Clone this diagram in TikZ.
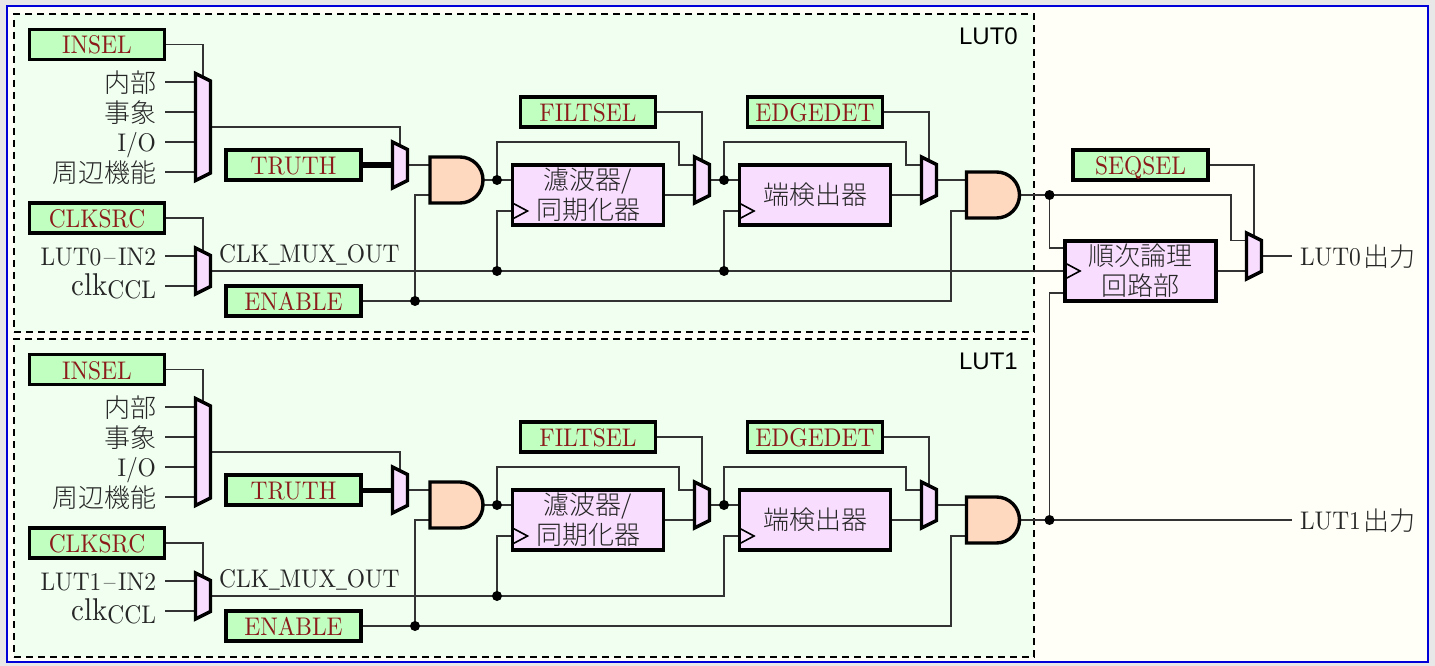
\documentclass[tikz,border=0pt]{standalone}
\usepackage{fontspec}
\setmainfont{lmroman10-regular}[Extension=.otf,FakeStretch=0.92]
\newfontfamily\cjkfam{Noto Sans CJK JP Light}
\newfontfamily\sansfam{Liberation Sans}
\newfontfamily\usfam{Liberation Serif}
\usetikzlibrary{calc}
\pgfdeclarelayer{panel}\pgfdeclarelayer{wirelayer}
\pgfsetlayers{panel,wirelayer,main}
\definecolor{wirecol}{HTML}{333333}
\definecolor{labelcol}{HTML}{262626}
\definecolor{regfill}{HTML}{C0FFC0}
\definecolor{regtext}{HTML}{8B1A1A}
\definecolor{pinkfill}{HTML}{F8DDFF}
\definecolor{peachfill}{HTML}{FFD8C0}
\definecolor{panelfill}{HTML}{F0FFF0}
\newcommand{\lat}{\fontsize{25.5}{28}\selectfont}
\newcommand{\cj}[1]{\raisebox{-1pt}{\cjkfam\fontsize{26}{30}\selectfont\color{labelcol}#1}}
\newcommand{\us}{{\usfam\fontsize{21}{26}\selectfont\_}}
\tikzset{
  wire/.style={draw=wirecol,line width=1.8pt},
  thickwire/.style={draw=black,line width=5pt},
  regbox/.style={draw=black,line width=3.4pt,fill=regfill,minimum width=135pt,minimum height=30pt,inner sep=0pt,outer sep=0pt,text=regtext,font=\lat,text height=19pt,text depth=0pt},
  blockbox/.style={draw=black,line width=3.2pt,fill=pinkfill,minimum width=151pt,minimum height=60pt,inner sep=0pt,outer sep=0pt,align=center,font=\fontsize{26}{30}\selectfont},
  pinlabel/.style={anchor=east,inner sep=0pt,outer sep=0pt,text=labelcol,font=\lat,text height=19pt,text depth=0pt},
  outlabel/.style={anchor=west,inner sep=0pt,outer sep=0pt,text=labelcol,font=\lat,text height=19pt,text depth=0pt},
  dot/.style={circle,fill=black,draw=none,minimum size=10pt,inner sep=0pt,outer sep=0pt},
  anchorbox/.style={inner sep=0pt,outer sep=0pt,minimum width=15pt},
  shapeline/.style={draw=black,line width=3.4pt,line join=miter},
  panelbox/.style={draw=black,fill=panelfill,line width=1.5pt,dash pattern=on 7pt off 5pt,minimum width=1020pt,minimum height=318pt,inner sep=0pt},
}
% mux: name, centre x, centre y, height of the long side
\newcommand{\muxnode}[4]{%
  \node[anchorbox,minimum height=#4pt] (#1) at (#2,#3) {};
  \filldraw[shapeline,fill=pinkfill] (#1.north west) -- ([yshift=-7.5pt]#1.north east)
    -- ([yshift=7.5pt]#1.south east) -- (#1.south west) -- cycle;}
% and gate: name, centre x, centre y
\newcommand{\andnode}[3]{%
  \node[inner sep=0pt,outer sep=0pt,minimum width=53pt,minimum height=46pt] (#1) at (#2,#3) {};
  \filldraw[shapeline,fill=peachfill] (#1.north west) -- ([xshift=-23pt]#1.north east)
    arc[start angle=90,end angle=-90,radius=23pt] -- (#1.south west) -- cycle;}
\newcommand{\lutblock}[2]{%
\begin{scope}[shift={(0,#2)}]
  \begin{pgfonlayer}{panel}
    \node[panelbox] (panel#1) at (524,173) {};
  \end{pgfonlayer}
  \node[anchor=east,inner sep=0pt,font=\sansfam\fontsize{24}{26}\selectfont,text=black] (title#1) at (1018,36) {LUT#1};
  \node[regbox] (insel#1) at (97,44.5) {INSEL};
  \node[pinlabel] (a#1) at (156,82) {\cj{内部}};
  \node[pinlabel] (b#1) at (156,112) {\cj{事象}};
  \node[pinlabel] (c#1) at (156,142) {I/O};
  \node[pinlabel] (d#1) at (156,172) {\cj{周辺機能}};
  \node[regbox] (truth#1) at (293.5,165) {TRUTH};
  \node[regbox] (clksrc#1) at (97,218) {CLKSRC};
  \node[pinlabel] (e#1) at (156,256) {LUT#1\hspace{2.5pt}–\hspace{2.5pt}IN2};
  \node[pinlabel] (f#1) at (156,286) {{\fontsize{31.5}{32}\selectfont clk}\raisebox{-3pt}{CCL}};
  \node[regbox] (enable#1) at (293.5,301) {ENABLE};
  \node[anchor=west,inner sep=0pt,text=labelcol,font=\lat,text height=17pt,text depth=0pt] (clkout#1) at (219,254) {CLK\us MUX\us OUT};
  \node[regbox] (filtsel#1) at (588,112) {FILTSEL};
  \node[regbox] (edgedet#1) at (815,112) {EDGEDET};
  \muxnode{ma#1}{203}{127}{107}
  \muxnode{mb#1}{400}{165}{46}
  \muxnode{mc#1}{203}{271}{46}
  \muxnode{md#1}{702}{180}{46}
  \muxnode{me#1}{929}{180}{46}
  \andnode{anda#1}{456.5}{180}
  \andnode{andb#1}{993}{195}
  \node[blockbox] (filt#1) at (588,195) {\cj{濾波器/}\\\cj{同期化器}};
  \node[blockbox] (edge#1) at (815,195) {\cj{端検出器}};
  \coordinate (filtclk#1) at (512.5,211);
  \coordinate (edgeclk#1) at (739,211);
  \draw[draw=black,line width=1.6pt] (filtclk#1) ++(0,-8) -- ++(15,8) -- ++(-15,8);
  \draw[draw=black,line width=1.6pt] (edgeclk#1) ++(0,-8) -- ++(15,8) -- ++(-15,8);
  \node[dot] (enj#1) at (415,301) {};
  \node[dot] (q#1) at (497,180) {};
  \node[dot] (r#1) at (724,180) {};
  \node[dot] (ck#1) at (497,271) {};
  \begin{pgfonlayer}{wirelayer}
    \draw[wire] (insel#1.east) -| (ma#1.center);
    \draw[wire] (clksrc#1.east) -| (mc#1.center);
    \foreach \n in {a,b,c,d}{\draw[wire] ([xshift=9pt]\n#1.east) -- (ma#1.west |- \n#1.east);}
    \foreach \n in {e,f}{\draw[wire] ([xshift=9pt]\n#1.east) -- (mc#1.west |- \n#1.east);}
    \draw[wire] (ma#1.east) -| (mb#1.center);
    \draw[thickwire] (truth#1.east) -- (mb#1.center);
    \draw[wire] (mb#1.east) -- (anda#1.west |- mb#1.east);
    \draw[wire] (enable#1.east) -- (enj#1.center);
    \draw[wire] (enj#1.center) |- ([yshift=-15pt]anda#1.west);
    \draw[wire] (enj#1.center) -| (951,211) -- ([yshift=-16pt]andb#1.west);
    \draw[wire] (mc#1.east) -- (ck#1.center);
    \draw[wire] (anda#1.east) -- (filt#1.west |- anda#1.east);
    \draw[wire] (ck#1.center) |- (filtclk#1);
    \draw[wire] (q#1.center) |- (679,142) |- ([yshift=15pt]md#1.center);
    \draw[wire] (filtsel#1.east) -| (md#1.center);
    \draw[wire] (filt#1.east) -- (md#1.west |- filt#1.east);
    \draw[wire] (md#1.east) -- (edge#1.west |- md#1.east);
    \draw[wire] (r#1.center) |- (906,142) |- ([yshift=15pt]me#1.center);
    \draw[wire] (edgedet#1.east) -| (me#1.center);
    \draw[wire] (edge#1.east) -- (me#1.west |- edge#1.east);
    \draw[wire] (me#1.east) -- ([yshift=15pt]andb#1.west);
  \end{pgfonlayer}
\end{scope}}
\begin{document}
\begin{tikzpicture}[x=1pt,y=-1pt]
  \useasboundingbox (0,0) rectangle (1435,666);
  \begin{pgfonlayer}{panel}
    \fill[fill=black!9] (0,0) rectangle (1435,666);
    \filldraw[draw=blue!85!black,line width=2pt,fill=white!97!yellow] (6.5,6.5) rectangle (1428,662);
  \end{pgfonlayer}
  \lutblock{0}{0}
  \lutblock{1}{325}
  % top-level part
  \node[regbox] (seqsel) at (1140.5,165) {SEQSEL};
  \node[blockbox] (seq) at (1140.5,271) {\cj{順次論理}\\\cj{回路部}};
  \muxnode{mf}{1254}{256}{46}
  \coordinate (seqclk) at (1065,271);
  \draw[draw=black,line width=1.6pt] (seqclk) ++(0,-8) -- ++(15,8) -- ++(-15,8);
  \node[dot] (s0) at (1049.5,195) {};
  \node[dot] (s1) at (1049.5,520) {};
  \node[dot] (ckz) at (724,271) {};
  \node[outlabel] (out0) at (1300,256) {LUT0\hspace{3pt}\cj{出力}};
  \node[outlabel] (out1) at (1300,520) {LUT1\hspace{3pt}\cj{出力}};
  \begin{pgfonlayer}{wirelayer}
    \draw[wire] (andb0.east) -- (s0.center);
    \draw[wire] (s0.center) -- (1231,195) |- (1247,240.5);
    \draw[wire] (s0.center) |- (seq.west |- 0,248);
    \draw[wire] (seqsel.east) -| (mf.center);
    \draw[wire] (seq.east) -- (mf.west |- seq.east);
    \draw[wire] (mf.east) -- ([xshift=-8pt]out0.west);
    \draw[wire] (andb1.east) -- ([xshift=-8pt]out1.west);
    \draw[wire] (s1.center) |- (seq.west |- 0,293);
    % clock of LUT0
    \draw[wire] (ck0.center) -- (ckz.center);
    \draw[wire] (ckz.center) -- (seqclk);
    \draw[wire] (ckz.center) |- (edgeclk0);
    % clock of LUT1
    \draw[wire] (ck1.center) -| (724,536) -- (edgeclk1);
  \end{pgfonlayer}
\end{tikzpicture}
\end{document}
